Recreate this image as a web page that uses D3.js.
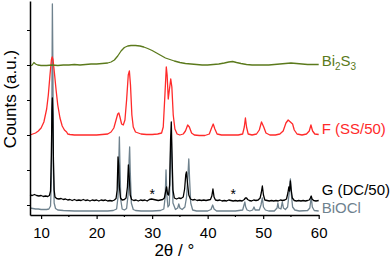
<!DOCTYPE html>
<html>
<head>
<meta charset="utf-8">
<script src="https://cdn.jsdelivr.net/npm/d3@7"></script>
<style>
  body { margin: 0; background: #fff; }
  text { font-family: "Liberation Sans", Arial, sans-serif; }
</style>
</head>
<body>
<div id="chart"></div>
<script>
// 2theta range and unlabeled y ticks (counts, a.u.)
const xTicks = [10, 20, 30, 40, 50, 60];
const xMinorTicks = [15, 25, 35, 45, 55];
const yTicks = [10, 45, 80, 115, 150, 185];

// BiOCl reference pattern [2theta, counts]
const biocl = [[8,7],[8.5,6.5],[9,6],[9.5,6],[10,5.5],[10.5,5.5],[11,5.5],[11.4,6],[11.7,9],[11.85,35],[11.95,120],[12.03,211],[12.12,150],[12.22,45],[12.35,12],[12.6,6.5],[13,5],[14,4.5],[16,4],[18,4],[20,4],[22,4],[23,4.5],[23.6,6],[23.85,18],[24.0,55],[24.1,78],[24.2,50],[24.35,15],[24.6,6],[25.0,5],[25.4,6.5],[25.7,22],[25.85,55],[25.95,68],[26.05,45],[26.25,12],[26.6,5.5],[27,4.5],[28,4],[30,4],[31.5,4.5],[32.1,6],[32.35,18],[32.5,45],[32.65,20],[32.85,8],[33.1,10],[33.32,62],[33.45,80],[33.58,48],[33.75,12],[34.2,5.5],[34.6,7],[34.8,11],[35,7],[35.4,5.5],[35.9,8],[36.2,18],[36.45,40],[36.6,56],[36.75,35],[36.95,12],[37.3,5],[38,4],[40,4],[40.6,5.5],[40.9,10],[41.15,6],[41.6,4],[43,4],[45,4],[46.3,5],[46.55,10],[46.7,13],[46.85,8],[47.1,5],[47.6,4],[48.1,5],[48.35,8],[48.55,5],[49.3,5],[49.6,10],[49.85,17],[50.05,8],[50.4,5],[51,4],[52,4],[52.5,7],[52.65,12],[52.8,7],[53.2,6],[53.45,13],[53.65,7],[54,5.5],[54.4,8],[54.75,25],[54.9,36],[55.05,22],[55.3,8],[55.7,5],[56.5,4],[58,4.5],[58.4,7],[58.65,18],[58.85,8],[59.2,4.5],[60,4]];

// sample G (DC/50)
const sampleG = [[8,20],[8.4,19.5],[8.8,20.5],[9.2,19.5],[9.6,19],[10,19.5],[10.4,18.5],[10.8,19],[11.2,18.5],[11.5,19.5],[11.7,24],[11.85,60],[11.95,105],[12.03,117],[12.12,100],[12.22,55],[12.35,25],[12.5,18],[12.8,16.5],[13.2,16],[13.6,16.5],[14,15.5],[14.4,16],[14.8,15],[15.2,15.5],[15.6,14.5],[16,15.5],[16.4,14.5],[16.8,15],[17.2,14.5],[17.6,15.5],[18,14.5],[18.4,15],[18.8,14],[19.2,15],[19.6,14.5],[20,15],[20.4,14],[20.8,15],[21.2,14.5],[21.6,15],[22,14],[22.4,14.5],[22.8,14],[23.2,15],[23.5,16.5],[23.7,25],[23.85,58],[23.97,50],[24.1,28],[24.3,17],[24.6,15],[25,15.5],[25.3,17],[25.55,28],[25.72,50],[25.85,40],[26.05,20],[26.3,15.5],[26.7,14.5],[27.1,15],[27.5,14],[27.9,15],[28.3,14.5],[28.7,15],[29.1,14],[29.5,15.5],[29.9,16],[30.3,15.5],[30.7,15],[31.1,14.5],[31.5,15],[31.9,15.5],[32.2,17],[32.45,24],[32.6,28],[32.78,21],[32.95,20],[33.15,30],[33.32,75],[33.45,93],[33.58,60],[33.75,25],[34,17],[34.4,16],[34.8,17],[35.2,16.5],[35.6,18],[35.85,26],[36.05,40],[36.18,43],[36.35,33],[36.6,20],[36.9,16],[37.3,15],[37.7,15.5],[38.1,14.5],[38.5,15],[38.9,14.5],[39.3,15],[39.7,14.5],[40.1,15],[40.5,15.5],[40.75,19],[40.95,26],[41.15,18],[41.4,15],[41.8,14.5],[42.2,15],[42.6,14],[43,14.5],[43.4,14],[43.8,15],[44.2,14.5],[44.6,14],[45,14.5],[45.4,14],[45.8,14.5],[46.2,14],[46.6,15.5],[46.8,17],[47,17],[47.2,15.5],[47.5,14.5],[47.9,14],[48.3,15],[48.7,14.5],[49.1,15],[49.45,17],[49.65,22],[49.85,29],[50.05,20],[50.3,15],[50.7,14.5],[51.1,14],[51.5,14.5],[51.9,14],[52.3,14.5],[52.7,14],[53.1,15],[53.5,14.5],[53.9,15],[54.2,16],[54.45,22],[54.62,28],[54.75,24],[54.9,34],[55.05,25],[55.25,17],[55.6,14.5],[56,14],[56.4,14.5],[56.8,14],[57.2,14.5],[57.6,14],[58,14.5],[58.3,15],[58.5,17],[58.65,19],[58.8,16],[59.1,14.5],[59.5,14],[60,14.5]];

// sample F (SS/50)
const sampleF = [[8,80],[8.5,81],[9,82],[9.5,84],[10,87],[10.5,93],[11,106],[11.3,120],[11.6,140],[11.85,155],[12.0,158],[12.15,155],[12.4,142],[12.7,125],[13,110],[13.4,97],[13.8,89],[14.2,85],[14.6,83],[14.8,81],[15.2,80.5],[16,80],[17,80],[18,80],[19,80],[20,80],[21,80.5],[22,81],[22.6,83],[23.1,87],[23.5,95],[23.8,101],[24.0,102],[24.2,98],[24.5,91],[24.8,90],[25.1,95],[25.4,115],[25.7,140],[25.9,144],[26.1,130],[26.35,100],[26.6,88],[27,83],[27.5,82],[28,81],[29,80.5],[30,80.5],[31,81],[31.7,82],[32.0,88],[32.3,120],[32.55,148],[32.7,140],[32.9,116],[33.1,125],[33.35,136],[33.55,128],[33.8,100],[34.1,86],[34.5,81],[35,80],[35.6,81],[36.0,84],[36.4,90],[36.7,88],[37.1,82],[37.6,80],[38.5,79.5],[39.5,79.5],[40.3,81],[40.7,87],[41,91],[41.3,86],[41.7,81],[42.5,80],[44,80],[45.5,80],[46.3,81],[46.6,88],[46.8,97],[47,88],[47.3,81],[48,80],[48.8,81],[49.3,85],[49.7,93],[50.1,88],[50.5,82],[51.2,80],[52.2,80],[53,81],[53.6,84],[54.1,92],[54.5,95],[54.9,93],[55.3,91],[55.6,85],[56.1,81],[57,80],[57.8,81],[58.3,84],[58.6,90],[58.9,84],[59.3,81],[60,80.5]];

// Bi2S3 reference
const bi2s3 = [[8,149],[8.4,150],[8.7,152.5],[9,151],[9.4,150],[10,149.5],[11,149.5],[12,150],[13,149.5],[14,150],[15,150],[16,150.5],[17,150],[18,150.5],[19,151],[20,151],[21,151.5],[22,152],[22.6,153],[23.2,155],[23.8,159],[24.4,164],[25,167.5],[25.6,169],[26.2,169.5],[27,169.5],[27.8,169],[28.5,168],[29.2,166.5],[30,164.5],[30.8,162],[31.6,159.5],[32.4,157],[33.2,155.5],[34,154],[35,152.5],[36,151.5],[37,151],[38,150.5],[39,150],[40,150],[41,150.5],[42,151],[43,152],[43.8,153],[44.5,153.5],[45.2,152.5],[46,151.5],[47,150.5],[48,150],[49,150],[50,150],[51,150],[52,150.5],[53,151],[54,151.5],[55,152],[56,151.5],[57,151],[58,150.5],[59,150.5],[60,150.5]];

// impurity reflections marked with *
const starMarks = [30.0, 44.6];

const width = 392, height = 261;
const svg = d3.select("#chart").append("svg")
  .attr("width", width).attr("height", height);

const x = d3.scaleLinear().domain([8, 60]).range([30, 318.7]);
const y = d3.scaleLinear().domain([0, 214]).range([215, 1]);

const line = d3.line()
  .x(d => x(d[0]))
  .y(d => y(d[1]));

const series = [
  { data: biocl, color: "#6f828e", label: "BiOCl", labelY: 2 },
  { data: sampleG, color: "#000000", label: "G (DC/50)", labelY: 20 },
  { data: sampleF, color: "#ff2a2a", label: "F (SS/50)", labelY: 81 },
  { data: bi2s3, color: "#5b7a1c", label: null, labelY: 149 }
];

series.forEach(s => {
  svg.append("path")
    .datum(s.data)
    .attr("fill", "none")
    .attr("stroke", s.color)
    .attr("stroke-width", 1.3)
    .attr("stroke-linejoin", "round")
    .attr("d", line);
});

// labels at right end
series.forEach(s => {
  if (!s.label) return;
  svg.append("text")
    .attr("x", x(60) + 3)
    .attr("y", y(s.labelY))
    .attr("fill", s.color)
    .style("font-size", "15px")
    .text(s.label);
});
let bl = svg.append("text")
  .attr("x", x(60) + 3)
  .attr("y", y(149))
  .attr("fill", "#5b7a1c")
  .style("font-size", "15px");
bl.append("tspan").text("Bi");
bl.append("tspan").attr("dy", 4).style("font-size", "10px").text("2");
bl.append("tspan").attr("dy", -4).text("S");
bl.append("tspan").attr("dy", 4).style("font-size", "10px").text("3");

svg.selectAll(".star")
  .data(starMarks)
  .enter()
  .append("text")
  .attr("class", "star")
  .attr("x", d => x(d))
  .attr("y", y(16))
  .attr("text-anchor", "middle")
  .attr("fill", "#000")
  .style("font-size", "14px")
  .text("*");

// axes
const xAxis = svg.append("g")
  .attr("transform", "translate(0," + y(0) + ")")
  .call(d3.axisBottom(x).tickValues(xTicks).tickSize(4).tickSizeOuter(0));
xAxis.select(".domain").attr("stroke-width", 1.5);
xAxis.selectAll(".tick line").attr("stroke-width", 1.2);
xAxis.selectAll(".tick text")
  .attr("dy", "0.71em")
  .attr("y", 12)
  .style("font-size", "15px")
  .style("font-family", "Liberation Sans, Arial, sans-serif");

svg.append("g")
  .attr("transform", "translate(0," + y(0) + ")")
  .selectAll("line")
  .data(xMinorTicks)
  .enter()
  .append("line")
  .attr("x1", d => x(d)).attr("x2", d => x(d))
  .attr("y1", 0).attr("y2", 2)
  .attr("stroke", "#000")
  .attr("stroke-width", 1.2);

const yAxis = svg.append("g")
  .attr("transform", "translate(" + x(8) + ",0)")
  .call(d3.axisLeft(y).tickValues(yTicks).tickSize(3).tickSizeOuter(0).tickFormat(""));
yAxis.select(".domain").attr("stroke-width", 1.5);

svg.append("text")
  .attr("x", x(34))
  .attr("y", 256)
  .attr("text-anchor", "middle")
  .style("font-size", "17px")
  .text("2\u03b8 / \u00b0");

svg.append("text")
  .attr("transform", "translate(16,99) rotate(-90)")
  .attr("text-anchor", "middle")
  .style("font-size", "17px")
  .text("Counts (a.u.)");
</script>
</body>
</html>
